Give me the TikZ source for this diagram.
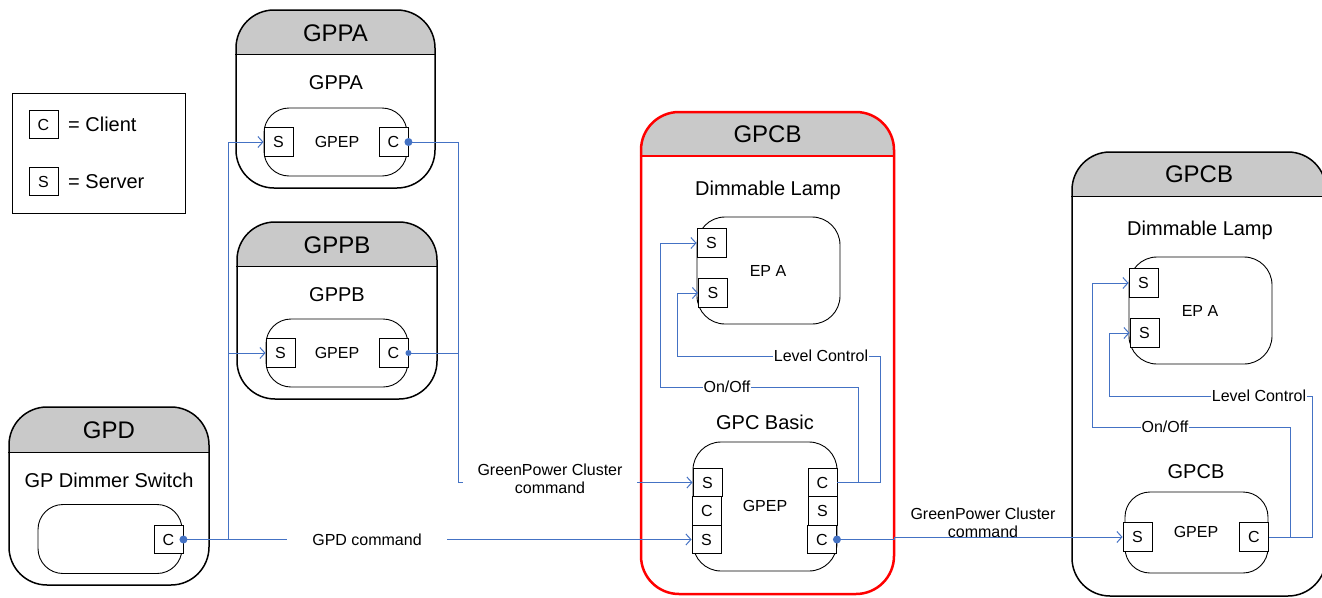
\documentclass[tikz,border=0pt]{standalone}
\usepackage{fontspec}
\setmainfont{Liberation Sans}
\usetikzlibrary{arrows.meta,calc}
\definecolor{wireblue}{HTML}{4472C4}
\definecolor{hdrgray}{HTML}{C9C9C9}
\definecolor{alertred}{HTML}{FF0000}

\begin{document}
\begin{tikzpicture}[x=1pt,y=-1pt,
  ttl/.style={font=\fontsize{24}{28}\selectfont},
  sub/.style={font=\fontsize{20}{24}\selectfont},
  sm/.style={font=\fontsize{16}{18}\selectfont},
  blk/.style={draw=black, line width=1.5pt, rounded corners=38pt, inner sep=0pt,
    path picture={\fill[hdrgray, sharp corners] ([yshift=-45pt]path picture bounding box.north west)
      rectangle ([yshift=2pt]path picture bounding box.north east);}},
  epbox/.style={draw=black, line width=0.9pt, rounded corners=25pt, inner sep=0pt},
  port/.style={draw=black, fill=white, line width=0.9pt, minimum width=29pt,
    minimum height=28.5pt, inner sep=0pt, sm},
  wire/.style={draw=wireblue, line width=1pt},
  arrowin/.style={-{Straight Barb[length=5pt,width=11pt]}},
  dot/.style={circle, fill=wireblue, inner sep=0pt, minimum size=8pt},
  wlabel/.style={fill=white, inner sep=1pt, sm},
]
\useasboundingbox (0,0) rectangle (1322,597);

% ---------- legend ----------
\node[draw, line width=1pt, minimum width=173pt, minimum height=120pt, inner sep=0pt] (legend) at (98.5,153) {};
\node[port] (lgC) at (43.5,124.5) {C};
\node[sub, anchor=west, inner sep=0pt] (lgCtxt) at (68,124.5) {= Client};
\node[port] (lgS) at (43.5,181.5) {S};
\node[sub, anchor=west, inner sep=0pt] (lgStxt) at (68,181.5) {= Server};

% ---------- GPPA ----------
\node[blk, minimum width=199pt, minimum height=178pt] (gppa) at (335.5,99) {};
\draw[line width=1.5pt] ([yshift=-45pt]gppa.north west) -- ([yshift=-45pt]gppa.north east);
\node[ttl] (gppaT) at (335.5,33) {GPPA};
\node[sub] (gppaSub) at (336,83) {GPPA};
\node[epbox, minimum width=143pt, minimum height=68pt] (gppaEP) at (335.5,142) {};
\node[sm] (gppaEPt) at (337,142) {GPEP};
\node[port] (gppaS) at (278.5,142) {S};
\node[port] (gppaC) at (393.5,142) {C};

% ---------- GPPB ----------
\node[blk, minimum width=200pt, minimum height=177pt] (gppb) at (337,310.5) {};
\draw[line width=1.5pt] ([yshift=-45pt]gppb.north west) -- ([yshift=-45pt]gppb.north east);
\node[ttl] (gppbT) at (337,245) {GPPB};
\node[sub] (gppbSub) at (337,295) {GPPB};
\node[epbox, minimum width=142pt, minimum height=68pt] (gppbEP) at (337,353) {};
\node[sm] (gppbEPt) at (337,353) {GPEP};
\node[port] (gppbS) at (280.5,353) {S};
\node[port] (gppbC) at (393.5,353) {C};

% ---------- GPD ----------
\node[blk, minimum width=200pt, minimum height=178pt] (gpd) at (109,496) {};
\draw[line width=1.5pt] ([yshift=-46pt]gpd.north west) -- ([yshift=-46pt]gpd.north east);
\node[ttl] (gpdT) at (109,430) {GPD};
\node[sub] (gpdSub) at (109,480) {GP Dimmer Switch};
\node[epbox, minimum width=144pt, minimum height=69pt] (gpdEP) at (110,539) {};
\node[port] (gpdC) at (168.5,539.5) {C};

% ---------- GPCB (highlighted) ----------
\node[blk, draw=alertred, line width=2.5pt, minimum width=253pt, minimum height=482pt] (gpcb) at (767.5,353) {};
\draw[alertred, line width=2.5pt] ([yshift=-45pt]gpcb.north west) -- ([yshift=-45pt]gpcb.north east);
\node[ttl] (gpcbT) at (767.5,134) {GPCB};
\node[sub] (lampSub) at (768,190) {Dimmable Lamp};
\node[epbox, rounded corners=28pt, minimum width=143pt, minimum height=107pt] (lampEP) at (768.5,270.5) {};
\node[sm] (lampEPt) at (768,271) {EP A};
\node[port] (lampS1) at (711.5,243) {S};
\node[port] (lampS2) at (713,293) {S};
\node[sub] (basicSub) at (765,422) {GPC Basic};
\node[epbox, rounded corners=28pt, minimum width=144pt, minimum height=129pt] (basicEP) at (765,506.5) {};
\node[sm] (basicEPt) at (765,506) {GPEP};
\node[port] (basicLS1) at (707.5,482.5) {S};
\node[port] (basicLC)  at (707,511) {C};
\node[port] (basicLS2) at (706.5,539.5) {S};
\node[port] (basicRC1) at (822.5,482.5) {C};
\node[port] (basicRS)  at (822.5,511) {S};
\node[port] (basicRC2) at (822,539.5) {C};

% ---------- GPCB (right) ----------
\node[blk, minimum width=254pt, minimum height=444pt] (gpcbR) at (1199,374) {};
\draw[line width=1.5pt] ([yshift=-45pt]gpcbR.north west) -- ([yshift=-45pt]gpcbR.north east);
\node[ttl] (gpcbRT) at (1199,174) {GPCB};
\node[sub] (rLampSub) at (1200,230) {Dimmable Lamp};
\node[epbox, rounded corners=28pt, minimum width=143pt, minimum height=107pt] (rLampEP) at (1200.5,310.5) {};
\node[sm] (rLampEPt) at (1200,311) {EP A};
\node[port] (rS1) at (1143.5,283) {S};
\node[port] (rS2) at (1144.5,333) {S};
\node[sub] (rSub) at (1196,472) {GPCB};
\node[epbox, minimum width=143pt, minimum height=81pt] (rEP) at (1196.5,532.5) {};
\node[sm] (rEPt) at (1196,532) {GPEP};
\node[port] (rS) at (1137.5,537) {S};
\node[port] (rC) at (1254,537) {C};

% ---------- GPD command fan-out ----------
\coordinate (splitA) at (228,539.5);
\draw[wire, arrowin] (gpdC.east) -- (basicLS2.west);
\draw[wire, arrowin] (splitA) |- (gppbS.west);
\draw[wire, arrowin] (splitA) |- (gppaS.west);
\node[wlabel, minimum width=160pt] (gpdCmd) at (367,539.5) {GPD command};

% ---------- proxy GreenPower Cluster commands ----------
\coordinate (mergeB) at (458,482.5);
\draw[wire] (gppaC.east) -| (mergeB);
\draw[wire] (gppbC.east) -| (mergeB);
\draw[wire, arrowin] (mergeB) -- (basicLS1.west);
\node[wlabel, align=center, minimum width=174pt] (gpcCmd) at (550,479) {GreenPower Cluster\\command};

% ---------- sink to right GPCB ----------
\coordinate (jog) at (894,539.5);
\draw[wire, arrowin] (basicRC2.east) -- (jog) |- (rS.west);
\node[sm, align=center] (rCmd) at (983,523) {GreenPower Cluster\\command};

% ---------- local bindings, highlighted GPCB ----------
\coordinate (ooR) at (858,387);
\coordinate (ooL) at (660,387);
\draw[wire, arrowin] (basicRC1.east) -| (ooR) -- (ooL) |- (lampS1.west);
\node[wlabel] (ooLbl) at (727,387) {On/Off};
\coordinate (lcR) at (880,356);
\coordinate (lcL) at (677,356);
\draw[wire, arrowin] (basicRC1.east) -| (lcR) -- (lcL) |- (lampS2.west);
\node[wlabel] (lcLbl) at (821,356) {Level Control};

% ---------- local bindings, right GPCB ----------
\coordinate (rooR) at (1290,427);
\coordinate (rooL) at (1092,427);
\draw[wire, arrowin] (rC.east) -| (rooR) -- (rooL) |- (rS1.west);
\node[wlabel] (rooLbl) at (1165,427) {On/Off};
\coordinate (rlcR) at (1312,396);
\coordinate (rlcL) at (1109,396);
\draw[wire, arrowin] (rC.east) -| (rlcR) -- (rlcL) |- (rS2.west);
\node[wlabel] (rlcLbl) at (1259,396) {Level Control};

% ---------- client output dots ----------
\node[dot] (gpdDot) at (gpdC.east) {};
\node[dot] (gppaDot) at (gppaC.east) {};
\node[dot, minimum size=6pt] (gppbDot) at (gppbC.east) {};
\node[dot] (basicDot) at (basicRC2.east) {};
\end{tikzpicture}
\end{document}
